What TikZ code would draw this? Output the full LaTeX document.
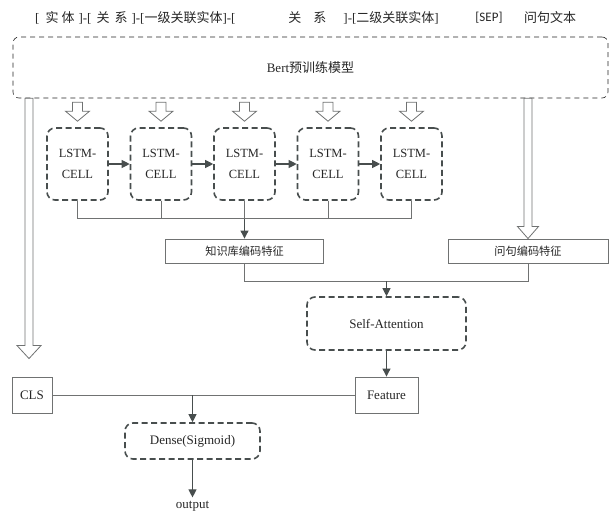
\documentclass[tikz,border=0pt]{standalone}
\usepackage{fontspec}
\setmainfont{Liberation Serif}
\newfontfamily\cjk{Noto Sans CJK SC}
\newfontfamily\sepfont{Carlito}
\usetikzlibrary{positioning,calc,arrows.meta}

\definecolor{cellgray}{RGB}{72,78,78}
\definecolor{linegray}{RGB}{112,114,114}
\definecolor{textgray}{RGB}{38,38,38}

\tikzset{
  cell/.style={draw=cellgray, line width=1.6pt, dash pattern=on 6pt off 3.5pt,
    rounded corners=8pt, align=center, inner sep=0pt},
  lstmcell/.style={cell, minimum width=61pt, minimum height=72pt,
    font=\fontsize{12.5}{21}\selectfont},
  plainbox/.style={draw=linegray, line width=0.9pt, inner sep=0pt},
  bertbox/.style={draw=black!85, line width=0.65pt, dash pattern=on 5pt off 4pt,
    rounded corners=6pt},
  link/.style={draw=linegray, line width=0.9pt},
  flow/.style={draw=cellgray, line width=1.1pt, -{Triangle[length=8pt,width=8pt]}},
  hollow/.style={draw=linegray, line width=0.8pt, fill=white},
}

\newcommand{\hollowarrow}[5]{%
  \draw[hollow] let \p1=(#1), \p2=(#2) in
    (\x1-#3,\y1) -- (\x1-#3,\y2+#5) -- (\x1-#4,\y2+#5) -- (\x1,\y2)
    -- (\x1+#4,\y2+#5) -- (\x1+#3,\y2+#5) -- (\x1+#3,\y1) -- cycle;}

\begin{document}
\begin{tikzpicture}[x=1pt, y=1pt, font=\fontsize{13}{15}\selectfont, text=textgray,
    node distance=20.9pt]
  \useasboundingbox (0,0) rectangle (611,-512);

  \node[anchor=west, inner sep=0pt] (kbseq) at (35,-18) {[\hspace{6pt}{\cjk 实}\hspace{3pt}{\cjk 体}\hspace{4pt}]-[\hspace{5pt}{\cjk 关}\hspace{5pt}{\cjk 系}\hspace{4pt}]-[{\cjk 一级关联实体}]-[\hspace{53pt}{\cjk 关}\hspace{12pt}{\cjk 系}\hspace{17pt}]-[{\cjk 二级关联实体}]};
  \node (sep) at (489,-18) {\sepfont [SEP]};
  \node (qtext) at (550,-18) {\cjk 问句文本};

  \node[bertbox, minimum width=595pt, minimum height=61pt] (bert) at (310.5,-67.5) {Bert{\cjk 预训练模型}};

  \node[lstmcell] (lstm1) at (77.5,-164) {LSTM-\\CELL};
  \node[lstmcell, right=of lstm1] (lstm2) {LSTM-\\CELL};
  \node[lstmcell, right=of lstm2] (lstm3) {LSTM-\\CELL};
  \node[lstmcell, right=of lstm3] (lstm4) {LSTM-\\CELL};
  \node[lstmcell, right=of lstm4] (lstm5) {LSTM-\\CELL};

  \node[plainbox, minimum width=158pt, minimum height=24pt, font={\cjk\fontsize{11.2}{13}\selectfont}] (kb) at (lstm3.south |- 0,-251) {知识库编码特征};
  \node[plainbox, minimum width=160pt, minimum height=24pt, font={\cjk\fontsize{11.2}{13}\selectfont}] (q) at (528,-251) {问句编码特征};

  \node[cell, minimum width=159pt, minimum height=53pt] (sa) at (386.5,-323.5) {Self-Attention};
  \node[plainbox, minimum width=63pt, minimum height=36pt] (feature) at (386.5,-395) {Feature};
  \node[plainbox, minimum width=40pt, minimum height=36pt] (cls) at (32,-395) {CLS};
  \node[cell, minimum width=135pt, minimum height=36pt] (dense) at (192.5,-441) {Dense(Sigmoid)};
  \node (out) at (192.5,-506) {output};

  \foreach \i in {1,...,5}
    \hollowarrow{$(lstm\i.north)+(0,25)$}{$(lstm\i.north)+(0,6)$}{5pt}{12pt}{10pt};
  \hollowarrow{$(bert.south -| cls.north)+(-3,0)$}{$(cls.north)+(-3,18)$}{4pt}{12pt}{13pt}
  \hollowarrow{bert.south -| q.north}{q.north}{4pt}{10.5pt}{12pt}

  \foreach \a/\b in {1/2,2/3,3/4,4/5}
    \draw[flow] (lstm\a) -- (lstm\b);

  \coordinate (bus) at ($(lstm1.south)+(0,-18)$);
  \draw[link] (lstm1.south) -- (lstm1.south |- bus) -- (lstm5.south |- bus) -- (lstm5.south);
  \foreach \i in {2,3,4}
    \draw[link] (lstm\i.south) -- (lstm\i.south |- bus);
  \draw[flow] (lstm3.south |- bus) -- (kb.north);

  \coordinate (merge) at ($(kb.south)+(0,-18)$);
  \draw[link] (kb.south) -- (kb.south |- merge) -- (q.south |- merge) -- (q.south);
  \draw[flow] (sa.north |- merge) -- (sa.north);
  \draw[flow] (sa) -- (feature);

  \draw[link] (cls.east) -- (cls.east -| feature.west);
  \draw[flow] (cls -| dense) -- (dense);
  \draw[flow] (dense) -- (out);
\end{tikzpicture}
\end{document}
